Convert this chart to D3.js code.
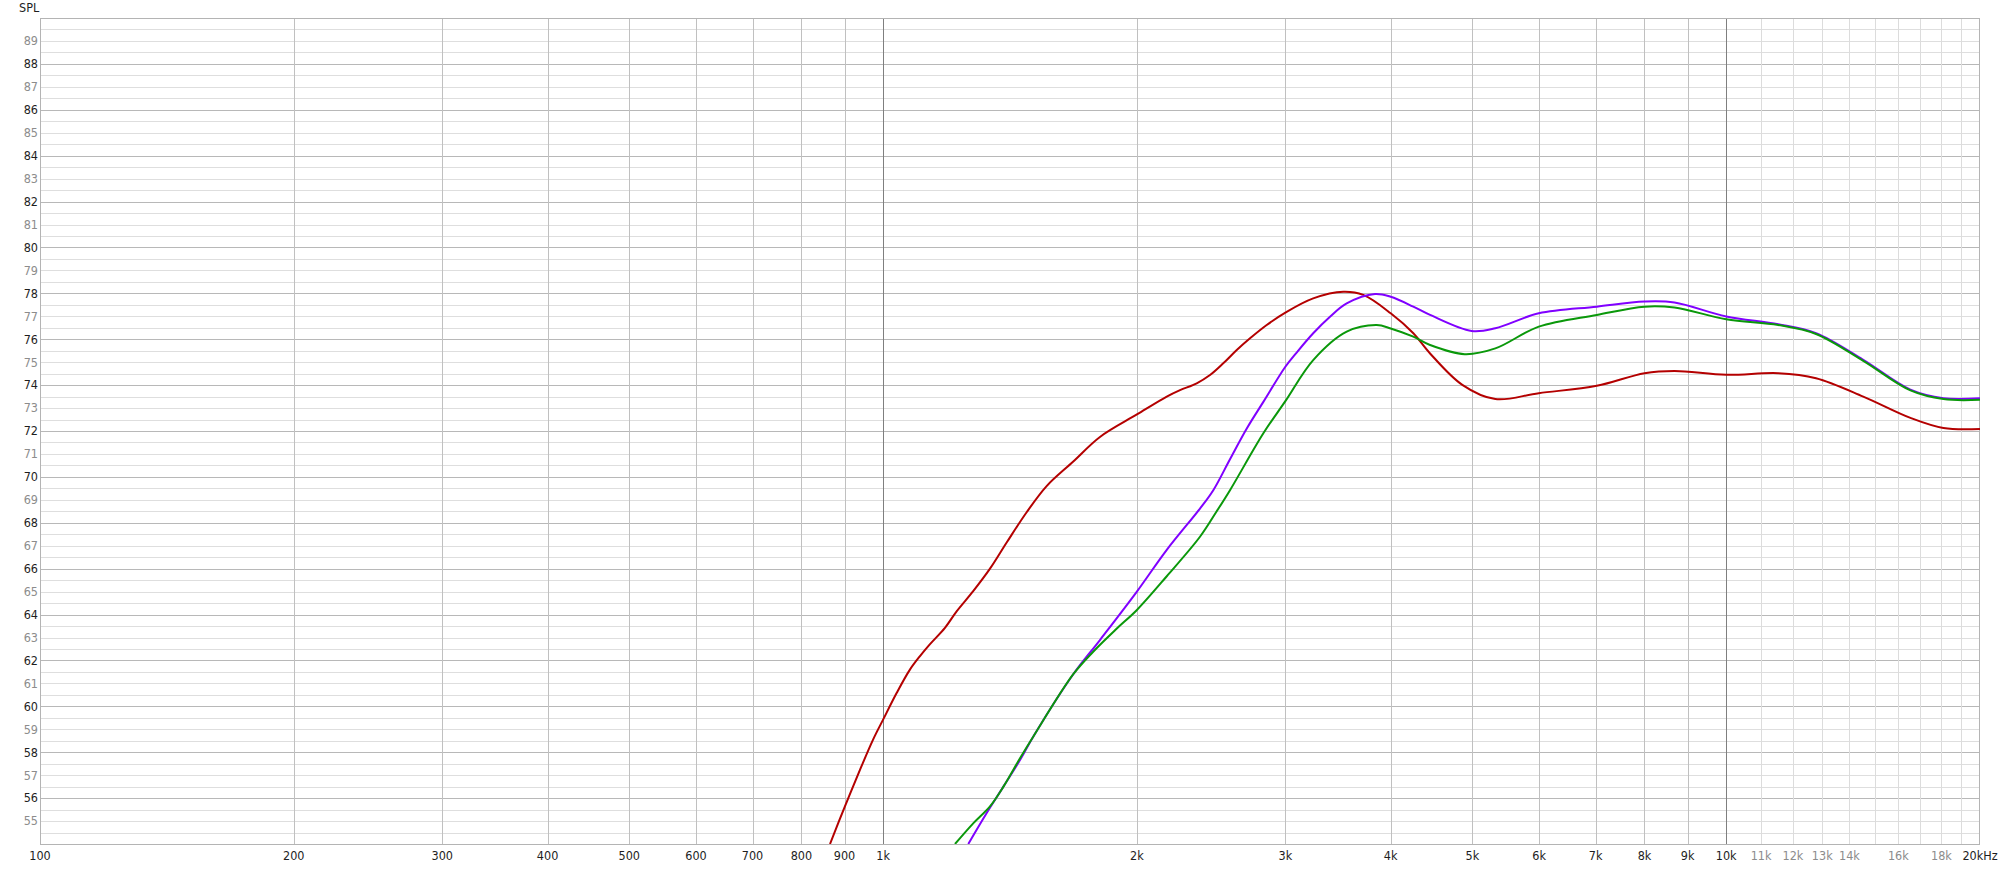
<!DOCTYPE html>
<html><head><meta charset="utf-8">
<script src="https://cdn.jsdelivr.net/npm/d3@7"></script>
<style>
html,body{margin:0;padding:0;background:#fff;}
svg{display:block;}
text{font-family:"Liberation Sans Narrow","DejaVu Sans Condensed",sans-serif;font-size:12.5px;}
</style></head>
<body><svg id="c" width="2000" height="869"></svg>
<script>
// ---- data ----
const redFreq = [865, 901, 939, 973, 1000, 1038, 1076, 1106, 1136, 1184, 1223, 1279, 1339, 1402, 1480, 1563, 1681, 1808, 2000, 2170, 2250, 2355, 2442, 2532, 2627, 2724, 2851, 3000, 3237, 3515, 3711, 4000, 4255, 4454, 4864, 5323, 5994, 7022, 8000, 8683, 10000, 11530, 12780, 14540, 16540, 18100, 20000];
const redSPL  = [54.0, 55.64, 57.24, 58.55, 59.42, 60.59, 61.6, 62.19, 62.7, 63.42, 64.15, 65.02, 66.0, 67.15, 68.46, 69.6, 70.67, 71.74, 72.72, 73.5, 73.78, 74.08, 74.44, 74.95, 75.53, 76.04, 76.62, 77.16, 77.78, 78.07, 77.93, 77.13, 76.26, 75.38, 74.01, 73.39, 73.65, 73.97, 74.52, 74.62, 74.45, 74.52, 74.3, 73.5, 72.57, 72.13, 72.09];
const purpleFreq = [1262, 1327, 1389, 1454, 1508, 1681, 1808, 2000, 2170, 2376, 2464, 2579, 2700, 2825, 3000, 3094, 3237, 3389, 3547, 3832, 4000, 4255, 4454, 4991, 5323, 5994, 7022, 8000, 8683, 10000, 11530, 12780, 14540, 16540, 18100, 20000];
const purpleSPL  = [54.0, 55.35, 56.5, 57.67, 58.7, 61.4, 62.89, 65.0, 66.82, 68.62, 69.42, 70.77, 72.11, 73.27, 74.8, 75.42, 76.26, 76.98, 77.56, 77.97, 77.85, 77.42, 77.06, 76.36, 76.48, 77.13, 77.42, 77.64, 77.6, 76.99, 76.65, 76.26, 75.1, 73.8, 73.43, 73.43];
const greenFreq = [1217, 1279, 1339, 1389, 1454, 1508, 1681, 1776, 1892, 2000, 2170, 2376, 2487, 2579, 2825, 3000, 3237, 3547, 3850, 4000, 4255, 4454, 4894, 5323, 5994, 7022, 8000, 8683, 10000, 11530, 12780, 14540, 16540, 18100, 20000];
const greenSPL  = [54.0, 54.9, 55.64, 56.5, 57.75, 58.7, 61.4, 62.39, 63.38, 64.2, 65.67, 67.39, 68.5, 69.42, 71.9, 73.3, 75.09, 76.33, 76.62, 76.47, 76.11, 75.75, 75.35, 75.6, 76.55, 77.06, 77.42, 77.38, 76.87, 76.62, 76.23, 75.06, 73.77, 73.39, 73.36];

const xGridMajor = [1000, 10000];
const xGrid = [200, 300, 400, 500, 600, 700, 800, 900, 2000, 3000, 4000, 5000, 6000, 7000, 8000, 9000];
const xGridLight = [11000, 12000, 13000, 14000, 15000, 16000, 17000, 18000, 19000];
const xLabels = ["100","200","300","400","500","600","700","800","900","1k","2k","3k","4k","5k","6k","7k","8k","9k","10k","11k","12k","13k","14k","16k","18k","20kHz"];
const xLabelFreq = [100,200,300,400,500,600,700,800,900,1000,2000,3000,4000,5000,6000,7000,8000,9000,10000,11000,12000,13000,14000,16000,18000,20000];
const xLabelGray = ["11k","12k","13k","14k","16k","18k"];
const yDomain = [54, 90];
const yTitle = "SPL";

// ---- layout ----
const L = 40, R = 1980, T = 18, B = 844;
const svg = d3.select("#c");
const x = d3.scaleLog().domain([100, 20000]).range([L, R]);
const y = d3.scaleLinear().domain(yDomain).range([B, T]);

// horizontal grid
const hLines = d3.range(54.5, 90, 0.5);
svg.append("g").selectAll("line").data(hLines).join("line")
  .attr("x1", L).attr("x2", R)
  .attr("y1", d => Math.round(y(d)) + 0.5).attr("y2", d => Math.round(y(d)) + 0.5)
  .attr("stroke", d => (d % 2 === 0) ? "#b8b8b8" : "#dedede").attr("stroke-width", 1);

// vertical grid
const vg = svg.append("g");
vg.selectAll(".l").data(xGridLight).join("line")
  .attr("x1", d => Math.round(x(d)) + 0.5).attr("x2", d => Math.round(x(d)) + 0.5)
  .attr("y1", T).attr("y2", B).attr("stroke", "#dcdcdc");
vg.selectAll(".m").data(xGrid).join("line")
  .attr("x1", d => Math.round(x(d)) + 0.5).attr("x2", d => Math.round(x(d)) + 0.5)
  .attr("y1", T).attr("y2", B).attr("stroke", "#c0c0c0");
vg.selectAll(".M").data(xGridMajor).join("line")
  .attr("x1", d => Math.round(x(d)) + 0.5).attr("x2", d => Math.round(x(d)) + 0.5)
  .attr("y1", T).attr("y2", B).attr("stroke", "#7f7f7f");

// border
svg.append("rect").attr("x", L + 0.5).attr("y", T + 0.5).attr("width", R - L - 1).attr("height", B - T)
  .attr("fill", "none").attr("stroke", "#b4b4b4");

// clip
svg.append("clipPath").attr("id", "clip").append("rect")
  .attr("x", L).attr("y", T).attr("width", R - L).attr("height", B - T);

const line = d3.line().x(d => x(d[0])).y(d => y(d[1])).curve(d3.curveCatmullRom.alpha(0.5));
const series = [
  {f: redFreq, v: redSPL, c: "#b40000"},
  {f: purpleFreq, v: purpleSPL, c: "#8000ff"},
  {f: greenFreq, v: greenSPL, c: "#0a980a"}
];
const g = svg.append("g").attr("clip-path", "url(#clip)");
series.forEach(s => {
  g.append("path").datum(d3.zip(s.f, s.v)).attr("d", line)
    .attr("fill", "none").attr("stroke", s.c).attr("stroke-width", 2).attr("stroke-linejoin", "round");
});

// y labels
const yLab = d3.range(55, 90, 1);
svg.append("g").selectAll("text").data(yLab).join("text")
  .attr("x", 38).attr("y", d => y(d)).attr("dy", "0.35em").attr("text-anchor", "end")
  .attr("fill", d => d % 2 === 0 ? "#1e1e1e" : "#8c8c8c").text(d => d);

// x labels
svg.append("g").selectAll("text").data(xLabels).join("text")
  .attr("x", (d, i) => x(xLabelFreq[i])).attr("y", 860).attr("text-anchor", "middle")
  .attr("fill", d => xLabelGray.includes(d) ? "#8c8c8c" : "#1e1e1e").text(d => d);

svg.append("text").attr("x", 19).attr("y", 12).attr("fill", "#1e1e1e").text(yTitle);
</script></body></html>
